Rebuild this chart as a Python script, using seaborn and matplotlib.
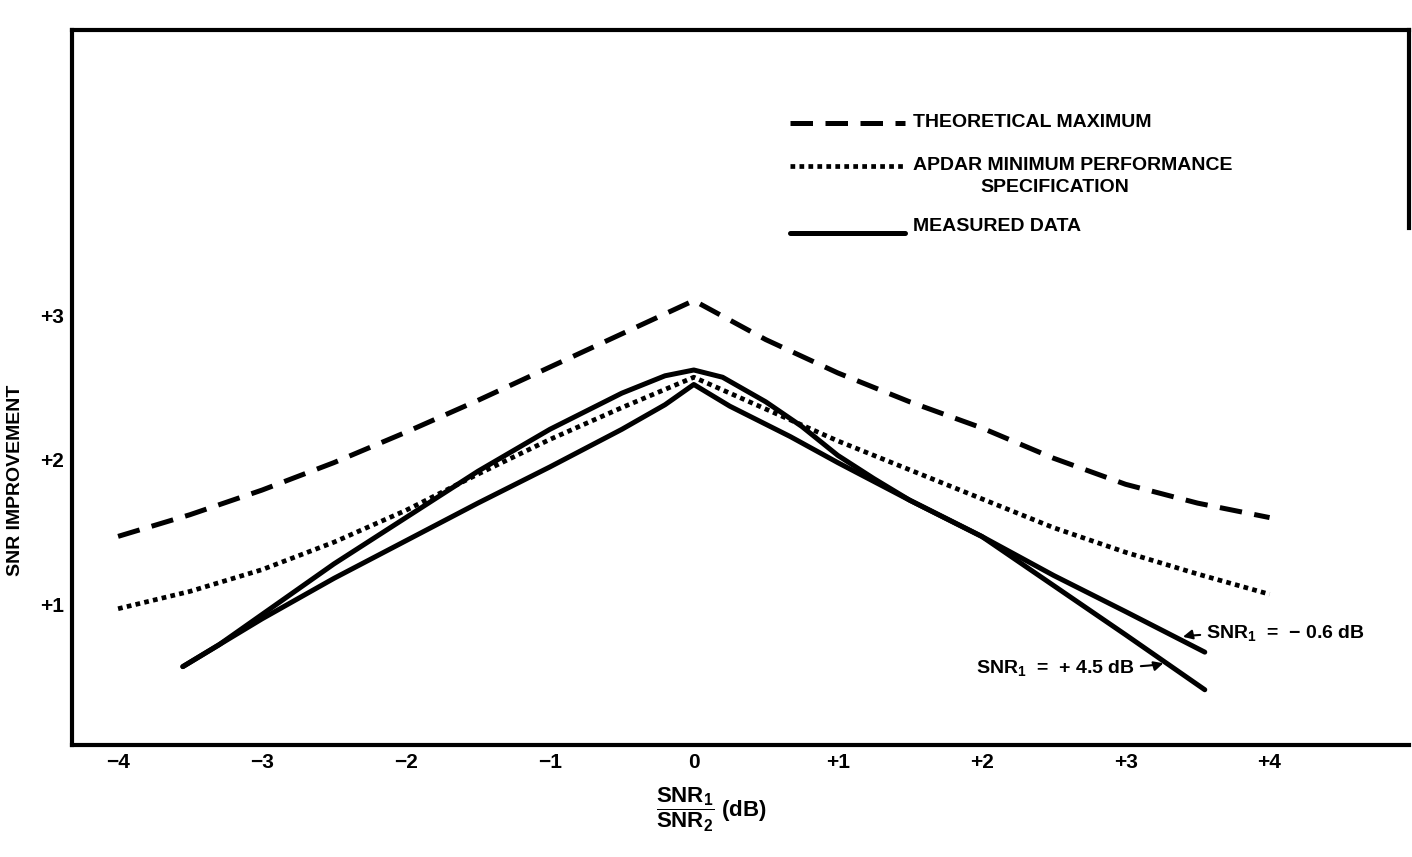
import numpy as np
import pandas as pd
import matplotlib
matplotlib.use("Agg")
import matplotlib.pyplot as plt
import seaborn as sns

sns.set_style("white")
plt.rcParams['font.family'] = ['Liberation Sans', 'DejaVu Sans']
plt.rcParams['font.weight'] = 'bold'
plt.rcParams['axes.labelweight'] = 'bold'
plt.rcParams['mathtext.fontset'] = 'custom'
plt.rcParams['mathtext.rm'] = 'Liberation Sans:bold'
plt.rcParams['mathtext.it'] = 'Liberation Sans:bold'
plt.rcParams['mathtext.sf'] = 'Liberation Sans:bold'
plt.rcParams['mathtext.bf'] = 'Liberation Sans:bold'
for k in ['text.color', 'axes.labelcolor', 'xtick.color', 'ytick.color']:
    plt.rcParams[k] = 'black'

# theoretical maximum (dashed)
theo_x = [-4, -3.5, -3, -2.5, -2, -1.5, -1, -0.5, 0, 0.5, 1, 1.5, 2, 2.5, 3, 3.5, 4]
theo_y = [1.47, 1.62, 1.79, 1.98, 2.19, 2.41, 2.64, 2.87, 3.10, 2.83, 2.60, 2.40, 2.22, 2.01, 1.83, 1.70, 1.60]

# APDAR minimum performance specification (dotted)
spec_x = [-4, -3.5, -3, -2.5, -2, -1.5, -1, -0.5, 0, 0.5, 1, 1.5, 2, 2.5, 3, 3.5, 4]
spec_y = [0.97, 1.09, 1.24, 1.43, 1.65, 1.90, 2.14, 2.36, 2.57, 2.35, 2.13, 1.93, 1.73, 1.53, 1.36, 1.21, 1.07]

# measured data, SNR1 = +4.5 dB
m45_x = [-3.55, -3.3, -3.0, -2.5, -2.0, -1.5, -1.0, -0.5, -0.2, 0, 0.2, 0.5, 0.75, 1.0, 1.25, 1.5, 2.0, 2.5, 3.0, 3.55]
m45_y = [0.57, 0.72, 0.93, 1.28, 1.60, 1.92, 2.21, 2.46, 2.58, 2.62, 2.57, 2.40, 2.23, 2.03, 1.87, 1.72, 1.47, 1.13, 0.79, 0.41]

# measured data, SNR1 = -0.6 dB
m06_x = [-3.55, -3.0, -2.5, -2.0, -1.5, -1.0, -0.5, -0.2, 0, 0.25, 0.67, 1.0, 1.5, 2.0, 2.5, 3.0, 3.55]
m06_y = [0.57, 0.90, 1.18, 1.44, 1.70, 1.95, 2.21, 2.38, 2.52, 2.37, 2.16, 1.98, 1.72, 1.47, 1.20, 0.95, 0.67]

xticks = [-4, -3, -2, -1, 0, 1, 2, 3, 4]
xticklabels = ['\u22124', '\u22123', '\u22122', '\u22121', '0', '+1', '+2', '+3', '+4']
yticks = [1, 2, 3]
yticklabels = ['+1', '+2', '+3']

fig = plt.figure(figsize=(14.12, 8.57), dpi=100)
ax = fig.add_axes([0.051, 0.131, 0.947, 0.834])

dash = (0, (4.5, 2.5))
dot = (0, (1, 0.9))
sns.lineplot(x=theo_x, y=theo_y, ax=ax, color='black', lw=3.6, estimator=None,
             linestyle=dash, legend=False)
sns.lineplot(x=spec_x, y=spec_y, ax=ax, color='black', lw=3.4, estimator=None,
             linestyle=dot, legend=False)
sns.lineplot(x=m45_x, y=m45_y, ax=ax, color='black', lw=3.6, estimator=None, legend=False)
sns.lineplot(x=m06_x, y=m06_y, ax=ax, color='black', lw=3.6, estimator=None, legend=False)

ax.set_xlim(-4.32, 4.97)
ax.set_ylim(0.03, 4.97)
ax.set_xticks(xticks)
ax.set_xticklabels(xticklabels, fontsize=15)
ax.set_yticks(yticks)
ax.set_yticklabels(yticklabels, fontsize=15)
ax.tick_params(axis='both', direction='in', length=13, width=2, color='black', pad=6)

for s in ['left', 'bottom', 'top', 'right']:
    ax.spines[s].set_color('black')
    ax.spines[s].set_linewidth(3)
ax.spines['right'].set_bounds(3.6, 4.97)

ax.set_ylabel('SNR IMPROVEMENT', fontsize=14)
ax.yaxis.set_label_coords(-0.036, 0.37)
ax.set_xlabel(r'$\dfrac{\mathrm{SNR_1}}{\mathrm{SNR_2}}$ (dB)', fontsize=16)
ax.xaxis.set_label_coords(0.478, -0.058)

# hand-drawn style legend
lx0, lx1, tx = 0.67, 1.47, 1.52
ax.plot([lx0, lx1], [4.33, 4.33], color='black', lw=3.6, linestyle=dash)
ax.text(tx, 4.33, 'THEORETICAL MAXIMUM', fontsize=14, va='center')
ax.plot([lx0, lx1], [4.03, 4.03], color='black', lw=3.4, linestyle=dot)
ax.text(tx, 4.03, 'APDAR MINIMUM PERFORMANCE', fontsize=14, va='center')
ax.text(2.51, 3.88, 'SPECIFICATION', fontsize=14, va='center', ha='center')
ax.plot([lx0, lx1], [3.57, 3.57], color='black', lw=3.6)
ax.text(tx, 3.61, 'MEASURED DATA', fontsize=14, va='center')

# curve labels
ax.annotate('SNR$_1$  =  \u2212 0.6 dB', xy=(3.38, 0.77), xytext=(3.56, 0.80),
            fontsize=14, va='center',
            arrowprops=dict(arrowstyle='-|>', color='black', lw=1.5,
                            connectionstyle='angle3,angleA=0,angleB=30'))
ax.annotate('SNR$_1$  =  + 4.5 dB', xy=(3.28, 0.60), xytext=(1.96, 0.56),
            fontsize=14, va='center',
            arrowprops=dict(arrowstyle='-|>', color='black', lw=1.5,
                            connectionstyle='angle3,angleA=0,angleB=30'))

fig.savefig('out.png', dpi=100)
